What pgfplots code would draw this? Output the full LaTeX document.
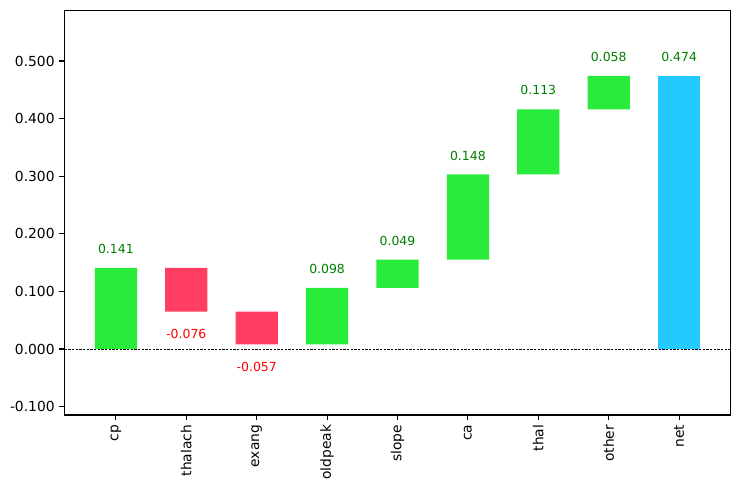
\documentclass[border=0pt]{standalone}
\usepackage{pgfplots}
\pgfplotsset{compat=1.18}
\usepackage{fontspec}
\setmainfont{DejaVu Sans}

\definecolor{posbar}{RGB}{41,235,59}
\definecolor{negbar}{RGB}{255,62,98}
\definecolor{netbar}{RGB}{36,201,255}
\definecolor{postext}{RGB}{0,128,0}
\definecolor{negtext}{RGB}{255,0,0}

\begin{document}
\begin{tikzpicture}
\pgfplotsset{
  wfbase/.style={
    width=6.66in, height=4.045in, scale only axis,
    xmin=-0.73, xmax=8.73,
    ymin=-0.1146, ymax=0.5877,
  }
}
\begin{axis}[wfbase,
  ybar stacked, bar width=0.6,
  axis line style={line width=0.8pt},
  xtick={0,1,...,8},
  xticklabels={cp,thalach,exang,oldpeak,slope,ca,thal,other,net},
  xticklabel style={rotate=90, anchor=east, font=\fontsize{10pt}{12pt}\selectfont},
  ytick={-0.1,0,0.1,0.2,0.3,0.4,0.5},
  yticklabels={-0.100,0.000,0.100,0.200,0.300,0.400,0.500},
  yticklabel style={font=\fontsize{10pt}{12pt}\selectfont},
  tick align=outside, tick pos=left,
  major tick length=0.05in,
  every tick/.style={black, line width=0.8pt},
]
% invisible base of each floating bar
\addplot[draw=none, fill=none] coordinates {
  (0,0) (1,0.065) (2,0.008) (3,0.008) (4,0.106) (5,0.155) (6,0.303) (7,0.416) (8,0)};
% positive contributions
\addplot[draw=none, fill=posbar] coordinates {
  (0,0.141) (1,0) (2,0) (3,0.098) (4,0.049) (5,0.148) (6,0.113) (7,0.058) (8,0)};
% negative contributions (height of the bar)
\addplot[draw=none, fill=negbar] coordinates {
  (0,0) (1,0.076) (2,0.057) (3,0) (4,0) (5,0) (6,0) (7,0) (8,0)};
% net
\addplot[draw=none, fill=netbar] coordinates {
  (0,0) (1,0) (2,0) (3,0) (4,0) (5,0) (6,0) (7,0) (8,0.474)};
\end{axis}

\begin{axis}[wfbase, hide axis, clip=false]
\addplot[black, line width=0.5pt, dash pattern=on 1.85pt off 0.8pt] coordinates {(-0.73,0) (8.73,0)};
\addplot[only marks, mark=none, point meta=explicit symbolic,
  nodes near coords,
  every node near coord/.append style={anchor=center, yshift=0.19in,
    text=postext, font=\fontsize{9pt}{11pt}\selectfont}]
  coordinates {
  (0,0.141) [0.141]
  (3,0.106) [0.098]
  (4,0.155) [0.049]
  (5,0.303) [0.148]
  (6,0.416) [0.113]
  (7,0.474) [0.058]
  (8,0.474) [0.474]};
\addplot[only marks, mark=none, point meta=explicit symbolic,
  nodes near coords,
  every node near coord/.append style={anchor=center, yshift=-0.225in,
    text=negtext, font=\fontsize{9pt}{11pt}\selectfont}]
  coordinates {
  (1,0.065) [-0.076]
  (2,0.008) [-0.057]};
\end{axis}

\pgfresetboundingbox
\path ([shift={(-0.645in,-0.75in)}]current axis.south west)
  rectangle ([shift={(0.095in,0.105in)}]current axis.north east);
\end{tikzpicture}
\end{document}
